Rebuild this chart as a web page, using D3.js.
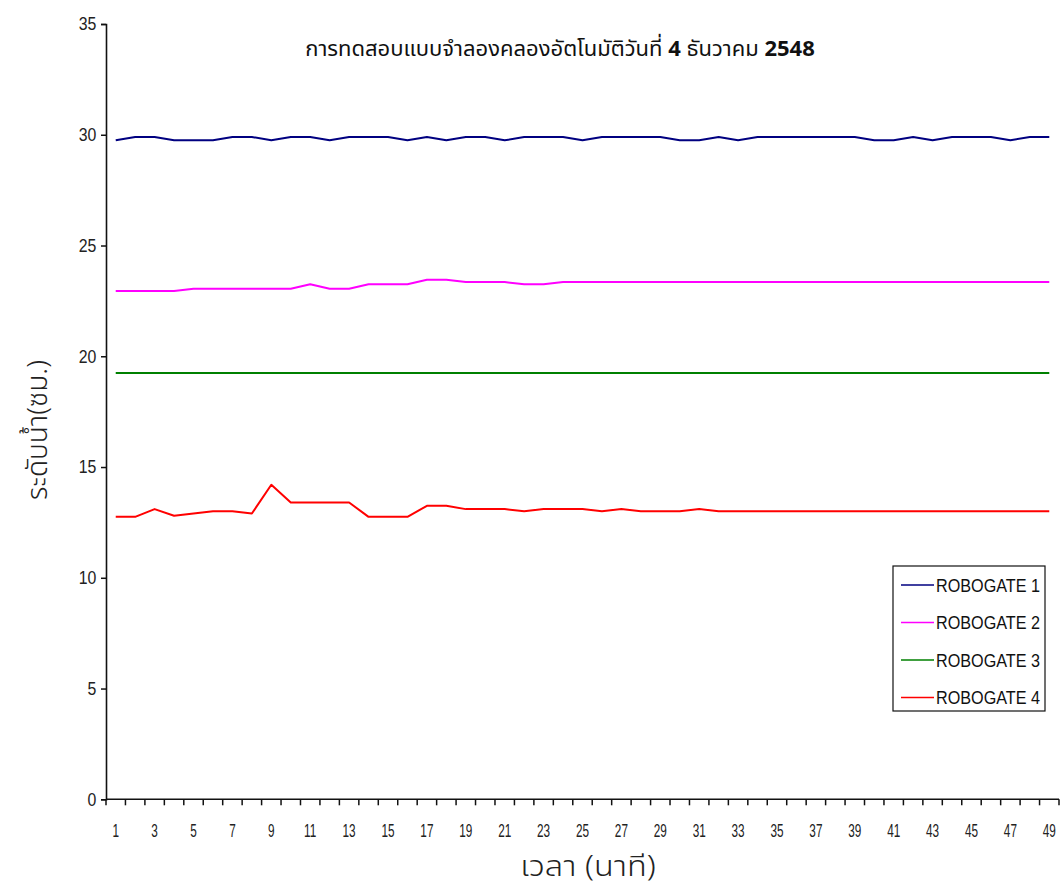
<!DOCTYPE html>
<html>
<head>
<meta charset="utf-8">
<script src="https://cdn.jsdelivr.net/npm/d3@7"></script>
<style>
  html, body { margin: 0; padding: 0; background: #fff; }
  svg { display: block; }
  .thai { font-family: "Noto Sans Thai", "Noto Sans Thai UI", Loma, Garuda, "Tlwg Typo", Norasi, "Noto Sans", sans-serif; }
  .num { font-family: "Liberation Sans", Arial, sans-serif; }
</style>
</head>
<body>
<svg id="chart" width="1062" height="890"></svg>
<script>
// Minutes 1..49 of the test run
const minutes = d3.range(1, 50);

// Water level (cm) at each gate, one reading per minute
const gate1 = [29.75, 29.9, 29.9, 29.75, 29.75, 29.75, 29.9, 29.9, 29.75, 29.9,
               29.9, 29.75, 29.9, 29.9, 29.9, 29.75, 29.9, 29.75, 29.9, 29.9,
               29.75, 29.9, 29.9, 29.9, 29.75, 29.9, 29.9, 29.9, 29.9, 29.75,
               29.75, 29.9, 29.75, 29.9, 29.9, 29.9, 29.9, 29.9, 29.9, 29.75,
               29.75, 29.9, 29.75, 29.9, 29.9, 29.9, 29.75, 29.9, 29.9];
const gate2 = [22.95, 22.95, 22.95, 22.95, 23.05, 23.05, 23.05, 23.05, 23.05, 23.05,
               23.25, 23.05, 23.05, 23.25, 23.25, 23.25, 23.45, 23.45, 23.35, 23.35,
               23.35, 23.25, 23.25, 23.35, 23.35, 23.35, 23.35, 23.35, 23.35, 23.35,
               23.35, 23.35, 23.35, 23.35, 23.35, 23.35, 23.35, 23.35, 23.35, 23.35,
               23.35, 23.35, 23.35, 23.35, 23.35, 23.35, 23.35, 23.35, 23.35];
const gate3 = [19.25, 19.25, 19.25, 19.25, 19.25, 19.25, 19.25, 19.25, 19.25, 19.25,
               19.25, 19.25, 19.25, 19.25, 19.25, 19.25, 19.25, 19.25, 19.25, 19.25,
               19.25, 19.25, 19.25, 19.25, 19.25, 19.25, 19.25, 19.25, 19.25, 19.25,
               19.25, 19.25, 19.25, 19.25, 19.25, 19.25, 19.25, 19.25, 19.25, 19.25,
               19.25, 19.25, 19.25, 19.25, 19.25, 19.25, 19.25, 19.25, 19.25];
const gate4 = [12.75, 12.75, 13.1, 12.8, 12.9, 13.0, 13.0, 12.9, 14.2, 13.4,
               13.4, 13.4, 13.4, 12.75, 12.75, 12.75, 13.25, 13.25, 13.1, 13.1,
               13.1, 13.0, 13.1, 13.1, 13.1, 13.0, 13.1, 13.0, 13.0, 13.0,
               13.1, 13.0, 13.0, 13.0, 13.0, 13.0, 13.0, 13.0, 13.0, 13.0,
               13.0, 13.0, 13.0, 13.0, 13.0, 13.0, 13.0, 13.0, 13.0];

const seriesNames = ["ROBOGATE 1", "ROBOGATE 2", "ROBOGATE 3", "ROBOGATE 4"];
const seriesColors = ["#000080", "#ff00ff", "#008000", "#ff0000"];
const seriesValues = [gate1, gate2, gate3, gate4];

const yTicks = [0, 5, 10, 15, 20, 25, 30, 35];
const xLabelMinutes = minutes.filter(m => m % 2 === 1);

const titleText = "การทดสอบแบบจำลองคลองอัตโนมัติวันที่ ";
const titleDay = "4";
const titleMonth = " ธันวาคม ";
const titleYear = "2548";
const yTitle = "ระดับน้ำ(ซม.)";
const xTitle = "เวลา (นาที)";

const svg = d3.select("#chart");
const plotLeft = 106, plotRight = 1059, plotTop = 24, plotBottom = 799.3;

const x = d3.scaleBand().domain(minutes).range([plotLeft, plotRight]);
const y = d3.scaleLinear().domain([0, 35]).range([plotBottom, plotTop]);
const cx = m => x(m) + x.bandwidth() / 2;

// Series lines
const line = d3.line().x((d, i) => cx(minutes[i])).y(d => y(d));
seriesValues.forEach((vals, k) => {
  svg.append("path")
    .datum(vals)
    .attr("d", line)
    .attr("fill", "none")
    .attr("stroke", seriesColors[k])
    .attr("stroke-width", 2)
    .attr("stroke-linejoin", "round");
});

// Y axis
const yAxis = svg.append("g")
  .attr("transform", `translate(${plotLeft},0)`)
  .call(d3.axisLeft(y).tickValues(yTicks).tickSize(5).tickPadding(6));
yAxis.select(".domain").attr("stroke", "#111").attr("stroke-width", 1.6);
yAxis.selectAll(".tick line").attr("stroke", "#111").attr("stroke-width", 1.5);
yAxis.selectAll(".tick text")
  .attr("class", "num")
  .attr("font-size", 18)
  .attr("fill", "#222")
  .attr("transform", "scale(0.88,1)");

// X axis: line, ticks at category boundaries, labels on odd minutes
const xAxis = svg.append("g").attr("transform", `translate(0,${plotBottom})`);
xAxis.append("line")
  .attr("x1", plotLeft).attr("x2", plotRight)
  .attr("stroke", "#111").attr("stroke-width", 1.6);
const boundaries = minutes.map(m => x(m)).concat([plotRight]);
xAxis.selectAll("line.tk").data(boundaries).join("line")
  .attr("class", "tk")
  .attr("x1", d => d).attr("x2", d => d)
  .attr("y1", 0).attr("y2", 6)
  .attr("stroke", "#111").attr("stroke-width", 1.5);
xAxis.selectAll("text.lbl").data(xLabelMinutes).join("text")
  .attr("class", "lbl num")
  .attr("transform", d => `translate(${cx(d)},38) scale(0.62,1)`)
  .attr("text-anchor", "middle")
  .attr("font-size", 19)
  .attr("fill", "#222")
  .text(d => d);

// Title
const title = svg.append("text")
  .attr("class", "thai")
  .attr("x", 560).attr("y", 56)
  .attr("text-anchor", "middle")
  .attr("font-size", 22)
  .attr("fill", "#111");
title.append("tspan").text(titleText);
title.append("tspan").attr("font-weight", "bold").text(titleDay);
title.append("tspan").text(titleMonth);
title.append("tspan").attr("font-weight", "bold").text(titleYear);

// Axis titles
svg.append("text")
  .attr("class", "thai")
  .attr("transform", "translate(47,430) rotate(-90)")
  .attr("text-anchor", "middle")
  .attr("font-size", 28)
  .attr("font-weight", 300)
  .attr("fill", "#222")
  .text(yTitle);
svg.append("text")
  .attr("class", "thai")
  .attr("transform", "translate(588,876) scale(1.12,1)")
  .attr("text-anchor", "middle")
  .attr("font-size", 29)
  .attr("font-weight", 300)
  .attr("fill", "#222")
  .text(xTitle);

// Legend
const legend = svg.append("g").attr("transform", "translate(893,566)");
legend.append("rect")
  .attr("width", 152).attr("height", 145)
  .attr("fill", "#fff").attr("stroke", "#111").attr("stroke-width", 1.2);
seriesNames.forEach((name, k) => {
  const ly = 19 + k * 37.5;
  legend.append("line")
    .attr("x1", 8).attr("x2", 41).attr("y1", ly).attr("y2", ly)
    .attr("stroke", seriesColors[k]).attr("stroke-width", 1.5);
  legend.append("text")
    .attr("class", "num")
    .attr("transform", `translate(43,${ly + 6.5}) scale(0.9,1)`)
    .attr("font-size", 18)
    .attr("fill", "#111")
    .text(name);
});
</script>
</body>
</html>
